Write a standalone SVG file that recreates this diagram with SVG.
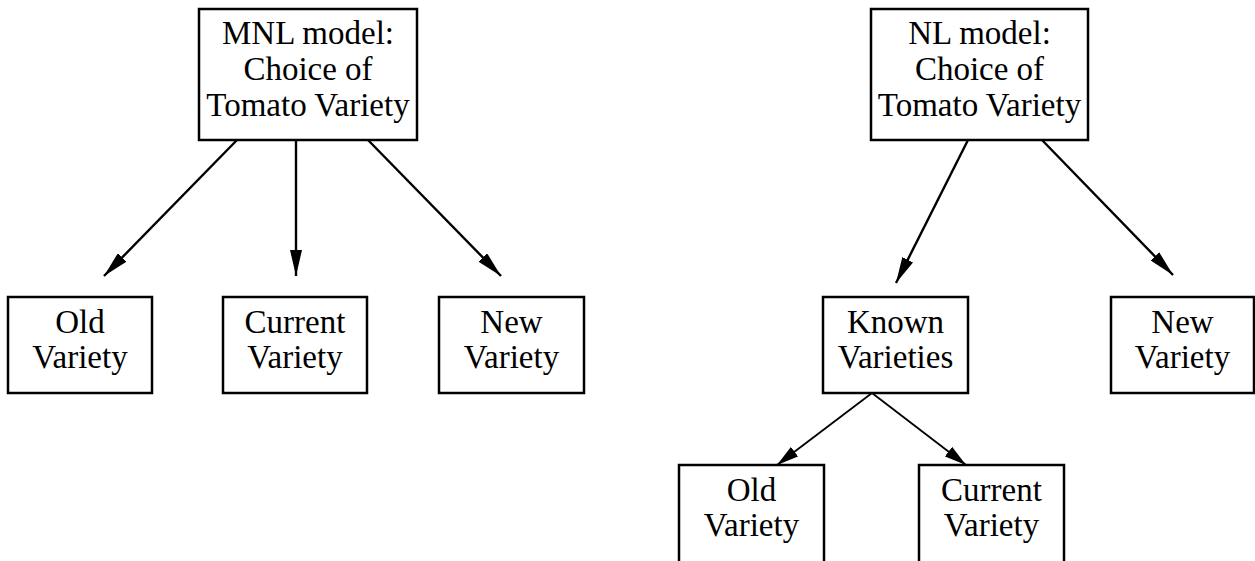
<svg xmlns="http://www.w3.org/2000/svg" width="1255" height="561" viewBox="0 0 1255 561">
<style>
.box{fill:#fff;stroke:#000;stroke-width:2.5}
.t{font-family:"Liberation Serif","Times New Roman",serif;font-size:33px;fill:#000;text-anchor:middle}
.c{stroke:#000;stroke-width:2.4;fill:none}
.c2{stroke:#000;stroke-width:1.8;fill:none}
</style>
<defs>
<marker id="ah" viewBox="0 0 26 12" refX="26" refY="6" markerWidth="26" markerHeight="12" markerUnits="userSpaceOnUse" orient="auto">
<path d="M0,0 L26,6 L0,12 z" fill="#000"/>
</marker>
<marker id="ah2" viewBox="0 0 22 12" refX="22" refY="6" markerWidth="22" markerHeight="12" markerUnits="userSpaceOnUse" orient="auto">
<path d="M0,0 L22,6 L0,12 z" fill="#000"/>
</marker>
</defs>
<rect width="1255" height="561" fill="#fff"/>
<g id="connectors">
<line class="c" x1="237" y1="140" x2="104" y2="276" marker-end="url(#ah)"/>
<line class="c" x1="296" y1="140" x2="296" y2="276" marker-end="url(#ah)"/>
<line class="c" x1="368" y1="140" x2="501" y2="276" marker-end="url(#ah)"/>
<line class="c" x1="968" y1="140" x2="896" y2="283" marker-end="url(#ah)"/>
<line class="c" x1="1042" y1="140" x2="1173" y2="275" marker-end="url(#ah)"/>
<line class="c2" x1="872" y1="393" x2="777" y2="465" marker-end="url(#ah2)"/>
<line class="c2" x1="872" y1="393" x2="966" y2="465" marker-end="url(#ah2)"/>
</g>
<g id="mnl">
<rect class="box" x="199" y="9" width="218" height="131"/>
<text class="t" x="308" y="44">MNL model:</text>
<text class="t" x="308" y="80">Choice of</text>
<text class="t" x="308" y="116">Tomato Variety</text>
</g>
<g id="mnl-old">
<rect class="box" x="8" y="297" width="144" height="96"/>
<text class="t" x="80" y="333">Old</text>
<text class="t" x="80" y="368">Variety</text>
</g>
<g id="mnl-current">
<rect class="box" x="223" y="297" width="144" height="96"/>
<text class="t" x="295" y="333">Current</text>
<text class="t" x="295" y="368">Variety</text>
</g>
<g id="mnl-new">
<rect class="box" x="439" y="297" width="145" height="96"/>
<text class="t" x="511.5" y="333">New</text>
<text class="t" x="511.5" y="368">Variety</text>
</g>
<g id="nl">
<rect class="box" x="871" y="9" width="217" height="131"/>
<text class="t" x="979.5" y="44">NL model:</text>
<text class="t" x="979.5" y="80">Choice of</text>
<text class="t" x="979.5" y="116">Tomato Variety</text>
</g>
<g id="nl-known">
<rect class="box" x="823" y="297" width="145" height="96"/>
<text class="t" x="895.5" y="333">Known</text>
<text class="t" x="895.5" y="368">Varieties</text>
</g>
<g id="nl-new">
<rect class="box" x="1111" y="297" width="143" height="96"/>
<text class="t" x="1182.5" y="333">New</text>
<text class="t" x="1182.5" y="368">Variety</text>
</g>
<g id="nl-old">
<rect class="box" x="679" y="465" width="145" height="110"/>
<text class="t" x="751.5" y="501">Old</text>
<text class="t" x="751.5" y="536">Variety</text>
</g>
<g id="nl-current">
<rect class="box" x="919" y="465" width="145" height="110"/>
<text class="t" x="991.5" y="501">Current</text>
<text class="t" x="991.5" y="536">Variety</text>
</g>
</svg>
